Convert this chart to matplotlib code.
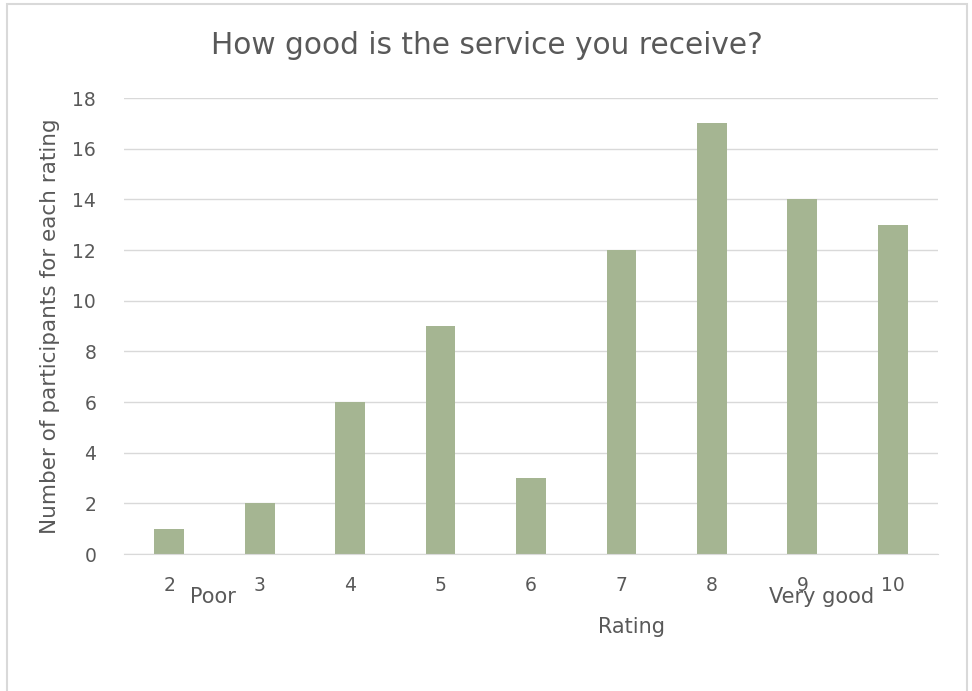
import matplotlib.pyplot as plt
import matplotlib
from matplotlib.patches import Rectangle

matplotlib.rcParams['font.family'] = ['DejaVu Sans']

ratings = ['2', '3', '4', '5', '6', '7', '8', '9', '10']
counts = [1, 2, 6, 9, 3, 12, 17, 14, 13]
y_ticks = [0, 2, 4, 6, 8, 10, 12, 14, 16, 18]

text_color = '#595959'
bar_color = '#A5B592'
grid_color = '#D9D9D9'

W, H = 972, 691
fig = plt.figure(figsize=(W / 100, H / 100), dpi=100)
ax = fig.add_axes([124 / W, 1 - 554 / H, (938 - 124) / W, (554 - 98) / H])

x = range(len(ratings))
ax.bar(x, counts, width=0.33, color=bar_color, zorder=2)

ax.set_xlim(-0.5, len(ratings) - 0.5)
ax.set_ylim(0, 18)
ax.set_yticks(y_ticks)
ax.set_xticks(list(x))
ax.set_xticklabels(ratings)
ax.grid(True, axis='y', color=grid_color, linewidth=1, zorder=0)
ax.tick_params(length=0, labelsize=13.5, labelcolor=text_color)
ax.tick_params(axis='x', pad=16)
ax.tick_params(axis='y', pad=20)
for s in ['top', 'right', 'left']:
    ax.spines[s].set_visible(False)
ax.spines['bottom'].set_color(grid_color)

ax.set_ylabel('Number of participants for each rating', fontsize=15.5,
              color=text_color, labelpad=9)
fig.text(631 / W, 1 - 627 / H, 'Rating', fontsize=15, color=text_color,
         ha='center', va='center')
fig.text(487 / W, 1 - 45 / H, 'How good is the service you receive?',
         fontsize=21.3, color=text_color, ha='center', va='center')
fig.text(213 / W, 1 - 597 / H, 'Poor', fontsize=15, color=text_color,
         ha='center', va='center')
fig.text(822 / W, 1 - 597 / H, 'Very good', fontsize=15, color=text_color,
         ha='center', va='center')

fig.patches.append(Rectangle((7 / W, -0.01), (967 - 7) / W, 1 - 4 / H + 0.01,
                             transform=fig.transFigure, fill=False,
                             edgecolor=grid_color, linewidth=1.5))

fig.savefig('out.png', dpi=100)
